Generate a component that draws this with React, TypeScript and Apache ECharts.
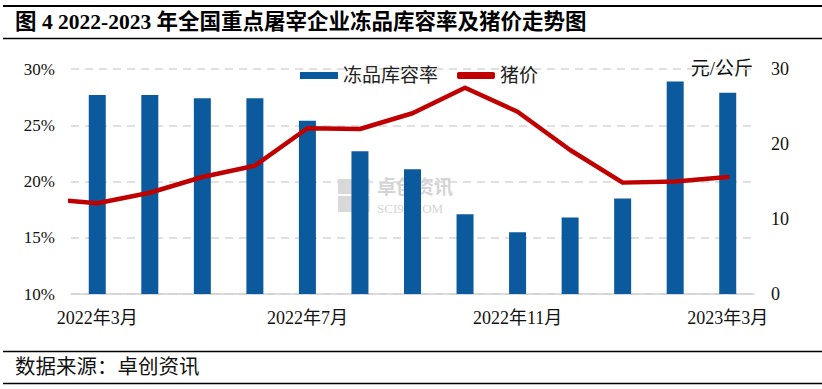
import React, { useEffect, useRef } from "react";
import * as echarts from "echarts";

const categories = [
  "2022年3月", "2022年4月", "2022年5月", "2022年6月", "2022年7月", "2022年8月", "2022年9月",
  "2022年10月", "2022年11月", "2022年12月", "2023年1月", "2023年2月", "2023年3月",
];
// 冻品库容率 (%)
const storageRate = [27.7, 27.7, 27.4, 27.4, 25.4, 22.7, 21.1, 17.1, 15.5, 16.8, 18.5, 28.9, 27.9];
// 猪价 (元/公斤), starting with 2022年2月 (just before the first category)
const priceMonthIndex = [-1, 0, 1, 2, 3, 4, 5, 6, 7, 8, 9, 10, 11, 12];
const pigPrice = [12.7, 12.1, 13.5, 15.6, 17.1, 22.1, 22.0, 24.1, 27.5, 24.3, 19.2, 14.85, 15.0, 15.6];
const leftTicks = { min: 10, max: 30, interval: 5 };
const rightTicks = { min: 0, max: 30, interval: 10 };

const TITLE = "图 4 2022-2023 年全国重点屠宰企业冻品库容率及猪价走势图";
const SOURCE = "数据来源：卓创资讯";
const FONT = "Times New Roman, Liberation Serif, Noto Sans CJK SC, serif";
const BLUE = "#0B5A9D";
const RED = "#C00000";

export default function App() {
  const ref = useRef<HTMLDivElement>(null);
  useEffect(() => {
    document.body.style.margin = "0";
    const chart = echarts.init(ref.current!, null, { renderer: "svg" });
    chart.setOption({
      animation: false,
      backgroundColor: "#fff",
      textStyle: { fontFamily: FONT },
      grid: { left: 71, right: 68, top: 69, bottom: 95, containLabel: false },
      legend: {
        left: 295,
        top: 61,
        itemWidth: 38,
        itemHeight: 7,
        itemGap: 19,
        textStyle: { fontSize: 19, color: "#222", fontFamily: FONT },
        data: [
          { name: "冻品库容率", icon: "rect" },
          { name: "猪价", icon: "roundRect" },
        ],
      },
      xAxis: [
        {
          type: "category",
          data: categories,
          boundaryGap: true,
          axisLine: { lineStyle: { color: "#d0d0d0", width: 1.5 } },
          axisTick: { interval: 3, length: 5, lineStyle: { color: "#d0d0d0", width: 1.5 } },
          axisLabel: { interval: 3, color: "#111", fontSize: 18, margin: 15, fontFamily: FONT },
        },
        {
          type: "value",
          min: -0.5,
          max: 12.5,
          show: false,
        },
      ],
      yAxis: [
        {
          type: "value",
          min: leftTicks.min,
          max: leftTicks.max,
          interval: leftTicks.interval,
          axisLine: { show: false },
          axisTick: { show: false },
          axisLabel: { formatter: "{value}%", color: "#111", fontSize: 17, margin: 16, fontFamily: FONT },
          splitLine: { lineStyle: { color: "#d6d6d6", type: [8, 6], width: 1.5 } },
        },
        {
          type: "value",
          min: rightTicks.min,
          max: rightTicks.max,
          interval: rightTicks.interval,
          axisLine: { show: false },
          axisTick: { show: false },
          axisLabel: { color: "#111", fontSize: 18, margin: 17, fontFamily: FONT },
          splitLine: { show: false },
        },
      ],
      graphic: [
        { type: "line", shape: { x1: 3, y1: 6, x2: 822, y2: 6 }, style: { stroke: "#000", lineWidth: 2 } },
        { type: "line", shape: { x1: 3, y1: 38.5, x2: 822, y2: 38.5 }, style: { stroke: "#000", lineWidth: 1.5 } },
        { type: "line", shape: { x1: 3, y1: 351.5, x2: 822, y2: 351.5 }, style: { stroke: "#000", lineWidth: 1.5 } },
        { type: "line", shape: { x1: 3, y1: 383.5, x2: 822, y2: 383.5 }, style: { stroke: "#000", lineWidth: 1.5 } },
        {
          type: "text", left: 15, top: 11,
          style: { text: TITLE, fill: "#000", fontSize: 21.5, fontWeight: "bold", fontFamily: FONT },
        },
        {
          type: "text", left: 15, top: 357,
          style: { text: SOURCE, fill: "#111", fontSize: 20.5, fontFamily: FONT },
        },
        {
          type: "text", right: 69, top: 59,
          style: { text: "元/公斤", fill: "#111", fontSize: 19, fontFamily: FONT },
        },
        // watermark
        { type: "rect", z: -10, shape: { x: 338, y: 179, width: 15, height: 15 }, style: { fill: "#d9d9d9" } },
        { type: "rect", z: -10, shape: { x: 355, y: 179, width: 15, height: 15 }, style: { fill: "#e3e3e3" } },
        { type: "rect", z: -10, shape: { x: 338, y: 196, width: 15, height: 16 }, style: { fill: "#d9d9d9" } },
        { type: "rect", z: -10, shape: { x: 355, y: 196, width: 15, height: 16 }, style: { fill: "#e3e3e3" } },
        { type: "text", z: -10, x: 377, y: 176, style: { text: "卓创资讯", fill: "#d4d4d4", fontSize: 19, fontWeight: "bold", fontFamily: "Noto Sans CJK SC" } },
        { type: "text", z: -10, x: 377, y: 202, style: { text: "SCI99.COM", fill: "#d4d4d4", fontSize: 13, fontFamily: FONT } },
      ],
      series: [
        {
          name: "冻品库容率",
          type: "bar",
          xAxisIndex: 0,
          yAxisIndex: 0,
          barWidth: 17,
          itemStyle: { color: BLUE },
          data: storageRate,
          z: 2,
        },
        {
          name: "猪价",
          type: "line",
          xAxisIndex: 1,
          yAxisIndex: 1,
          showSymbol: false,
          symbol: "none",
          clip: true,
          lineStyle: { color: RED, width: 4.5, cap: "round", join: "round" },
          itemStyle: { color: RED },
          data: priceMonthIndex.map((m, i) => [m, pigPrice[i]]),
          z: 3,
        },
      ],
    });
    return () => chart.dispose();
  }, []);
  return <div ref={ref} style={{ width: 822, height: 389, position: "absolute", left: 0, top: 0 }} />;
}
